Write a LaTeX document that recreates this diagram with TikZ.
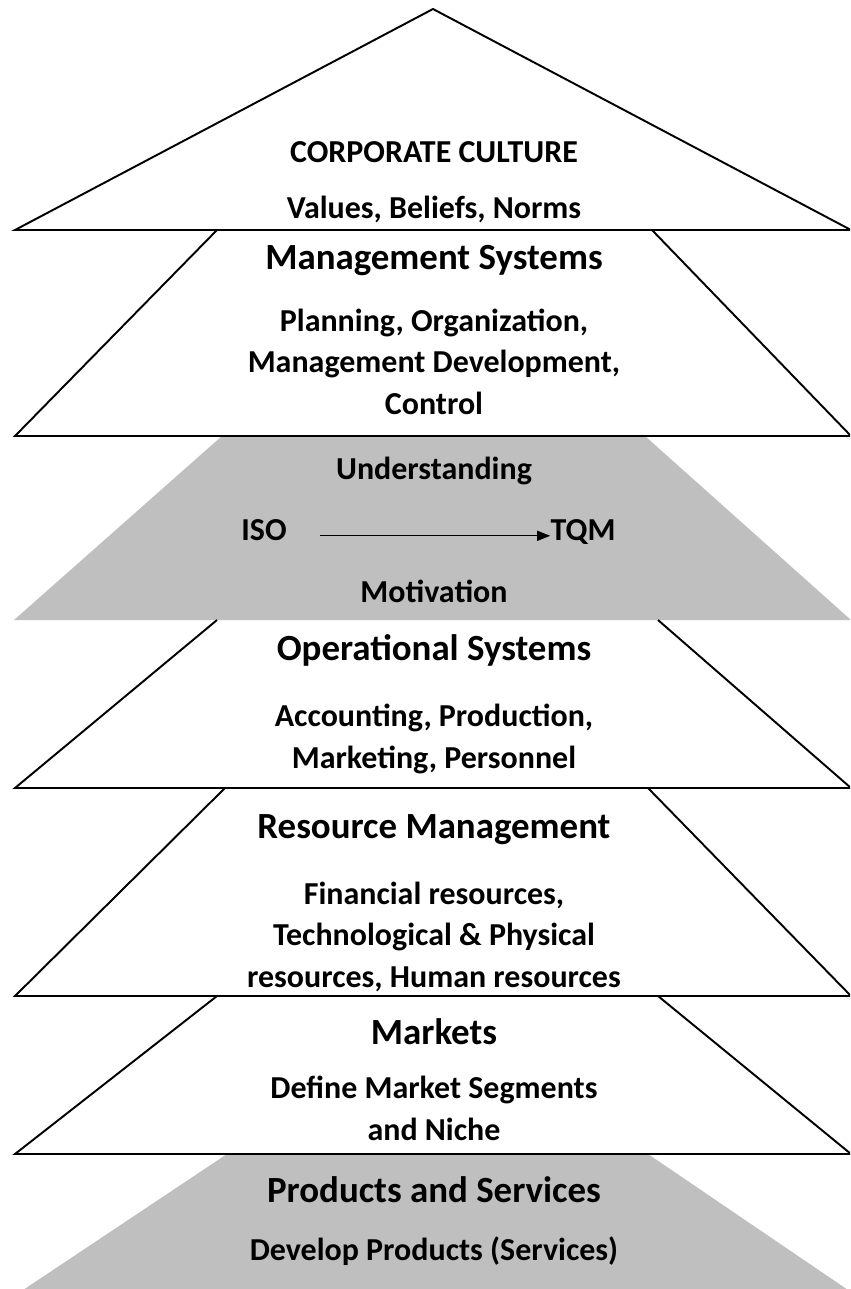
\documentclass[tikz,border=0pt]{standalone}
\usepackage{fontspec}
\setmainfont{Carlito}
\usetikzlibrary{positioning, arrows.meta}

\tikzset{
    tier/.style={draw=black, line width=1.1pt, line join=miter},
    band/.style={fill=black!25},
    title/.style={anchor=base, inner sep=0pt, font=\bfseries\fontsize{21}{25}\selectfont},
    detail/.style={anchor=base, inner sep=0pt, align=center, font=\bfseries\fontsize{18.2}{23.5}\selectfont},
    flow/.style={-{Triangle[length=7.4pt, width=5.7pt]}, line width=0.6pt, shorten <=18.8pt},
}

\begin{document}
\begin{tikzpicture}[x=0.02cm, y=-0.02cm]
    \useasboundingbox (0,0) rectangle (850,1289);
    \clip (0,0) rectangle (850,1289);

    % shaded bands
    \fill[band] (222,436) -- (14,620) -- (851,620) -- (645,436) -- cycle;
    \fill[band] (227,1154) -- (20,1292) -- (851,1292) -- (648,1154) -- cycle;

    % roof and the open-topped tiers under it
    \draw[tier] (433,9) -- (15,230) -- (851,230) -- cycle;
    \draw[tier] (217,230) -- (15,436) -- (851,436) -- (652,230);
    \draw[tier] (217,620) -- (15,788) -- (851,788) -- (658,620);
    \draw[tier] (225,788) -- (15,996) -- (851,996) -- (648,788);
    \draw[tier] (217,996) -- (15,1154) -- (851,1154) -- (658,996);

    % labels (multi-line ones sit on their last baseline)
    \node[detail] (culture) at (434,162) {CORPORATE CULTURE};
    \node[detail] (values) at (434,218) {Values, Beliefs, Norms};
    \node[title] (mgmt) at (434,269) {Management Systems};
    \node[detail] (mgmtlist) at (434,414) {Planning, Organization,\\Management Development,\\Control};
    \node[detail] (underst) at (434,479) {Understanding};
    \node[detail] (iso) at (264,540) {ISO};
    \node[detail] (tqm) at (583,540) {TQM};
    \node[detail] (motiv) at (434,602) {Motivation};
    \node[title] (ops) at (434,660) {Operational Systems};
    \node[detail] (opslist) at (434,768) {Accounting, Production,\\Marketing, Personnel};
    \node[title] (res) at (434,838) {Resource Management};
    \node[detail] (reslist) at (434,987) {Financial resources,\\Technological \& Physical\\resources, Human resources};
    \node[title] (mkt) at (434,1044) {Markets};
    \node[detail] (mktlist) at (434,1140) {Define Market Segments\\and Niche};
    \node[title] (prod) at (434,1202) {Products and Services};
    \node[detail] (prodlist) at (434,1260) {Develop Products (Services)};

    \draw[flow] (iso.mid east) -- (tqm.mid west);
\end{tikzpicture}
\end{document}
